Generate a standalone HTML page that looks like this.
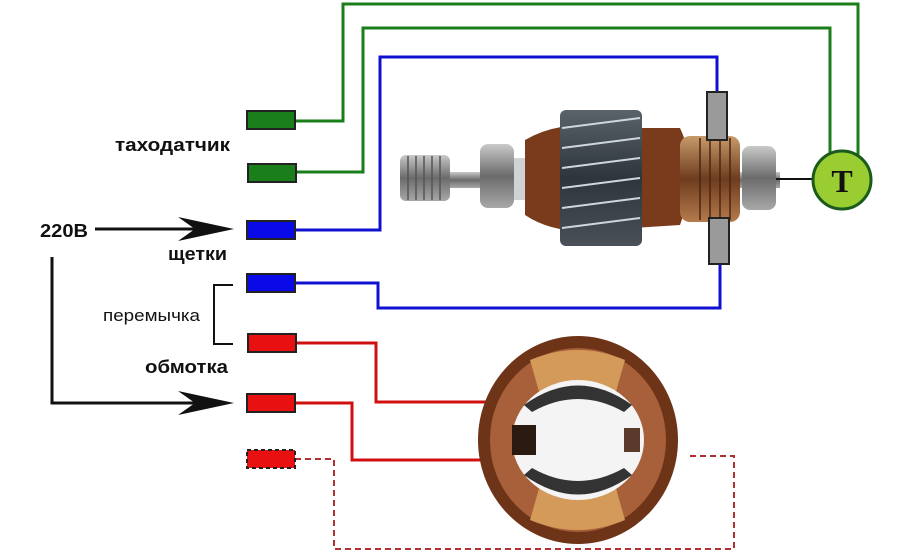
<!DOCTYPE html>
<html><head><meta charset="utf-8"><style>
html,body{margin:0;padding:0;background:#fff;}
svg{display:block;}
text{font-family:"Liberation Sans",sans-serif;fill:#111;}
</style></head><body>
<svg width="900" height="553" viewBox="0 0 900 553" xmlns="http://www.w3.org/2000/svg">
<defs>
<linearGradient id="core" x1="0" y1="0" x2="0" y2="1">
<stop offset="0" stop-color="#5a626a"/><stop offset="0.5" stop-color="#2e353c"/><stop offset="1" stop-color="#4a5058"/></linearGradient>
<linearGradient id="steel" x1="0" y1="0" x2="0" y2="1">
<stop offset="0" stop-color="#c9c9c9"/><stop offset="0.5" stop-color="#6b6b6b"/><stop offset="1" stop-color="#a8a8a8"/></linearGradient>
<linearGradient id="copper" x1="0" y1="0" x2="0" y2="1">
<stop offset="0" stop-color="#c79a6a"/><stop offset="0.5" stop-color="#6e3c1e"/><stop offset="1" stop-color="#b57b4d"/></linearGradient>
</defs>

<!-- wires -->
<g fill="none" stroke-width="3">
<polyline stroke="#1a7f1a" points="295,121 343,121 343,4 858,4 858,155"/>
<polyline stroke="#1a7f1a" points="295,172 363,172 363,28 830,28 830,155"/>
<polyline stroke="#1010d0" points="295,230 380,230 380,57 717,57 717,92"/>
<polyline stroke="#1010d0" points="295,283 378,283 378,308 720,308 720,264"/>
<polyline stroke="#d01010" points="295,343 376,343 376,402 492,402"/>
<polyline stroke="#d01010" points="295,403 352,403 352,460 490,460"/>
<polyline stroke="#b03030" stroke-width="2" stroke-dasharray="6,4" points="295,459 334,459 334,549 734,549 734,456 688,456"/>
</g>

<!-- terminals -->
<g stroke="#222" stroke-width="2">
<rect x="247" y="111" width="48" height="18" fill="#1a7f1a"/>
<rect x="248" y="164" width="48" height="18" fill="#1a7f1a"/>
<rect x="247" y="221" width="48" height="18" fill="#0a0ae8"/>
<rect x="247" y="274" width="48" height="18" fill="#0a0ae8"/>
<rect x="248" y="334" width="48" height="18" fill="#e81010"/>
<rect x="247" y="394" width="48" height="18" fill="#e81010"/>
<rect x="247" y="450" width="48" height="18" fill="#e81010" stroke-dasharray="4,3"/>
</g>

<!-- labels -->
<text x="115" y="151" font-size="18" font-weight="bold" textLength="115" lengthAdjust="spacingAndGlyphs">таходатчик</text>
<text x="40" y="237" font-size="18" font-weight="bold" textLength="48" lengthAdjust="spacingAndGlyphs">220В</text>
<text x="168" y="260" font-size="18" font-weight="bold" textLength="59" lengthAdjust="spacingAndGlyphs">щетки</text>
<text x="103" y="321" font-size="17" textLength="97" lengthAdjust="spacingAndGlyphs">перемычка</text>
<text x="145" y="373" font-size="18" font-weight="bold" textLength="83" lengthAdjust="spacingAndGlyphs">обмотка</text>

<!-- bracket -->
<polyline fill="none" stroke="#111" stroke-width="2" points="233,285 214,285 214,344 233,344"/>

<!-- arrows -->
<g stroke="#111" stroke-width="3" fill="none">
<line x1="95" y1="229" x2="225" y2="229"/>
<polyline points="52,257 52,403 225,403"/>
</g>
<path d="M234,229 L178,217 L195,229 L178,241 Z" fill="#111"/>
<path d="M234,403 L178,391 L195,403 L178,415 Z" fill="#111"/>

<!-- rotor -->
<rect x="400" y="172" width="380" height="16" fill="url(#steel)"/>
<rect x="400" y="155" width="50" height="46" rx="6" fill="url(#steel)"/>
<g stroke="#555" stroke-width="1.5">
<line x1="408" y1="156" x2="408" y2="200"/><line x1="416" y1="156" x2="416" y2="200"/><line x1="424" y1="156" x2="424" y2="200"/><line x1="432" y1="156" x2="432" y2="200"/><line x1="440" y1="156" x2="440" y2="200"/></g>
<rect x="480" y="144" width="34" height="64" rx="8" fill="url(#steel)"/>
<rect x="514" y="158" width="28" height="42" fill="#cfd3d6"/>
<path d="M525,140 Q560,120 600,128 L680,128 Q700,170 680,225 L600,230 Q555,235 525,215 Z" fill="#7a3a1c"/>
<rect x="560" y="110" width="82" height="136" rx="6" fill="url(#core)"/>
<g stroke="#cfd6dc" stroke-width="2">
<line x1="562" y1="128" x2="640" y2="118"/><line x1="562" y1="148" x2="640" y2="138"/><line x1="562" y1="168" x2="640" y2="158"/><line x1="562" y1="188" x2="640" y2="178"/><line x1="562" y1="208" x2="640" y2="198"/><line x1="562" y1="228" x2="640" y2="218"/></g>
<rect x="680" y="136" width="60" height="86" rx="10" fill="url(#copper)"/>
<g stroke="#4a2510" stroke-width="1.5"><line x1="700" y1="138" x2="700" y2="220"/><line x1="710" y1="138" x2="710" y2="220"/><line x1="720" y1="138" x2="720" y2="220"/><line x1="730" y1="138" x2="730" y2="220"/></g>
<rect x="742" y="146" width="34" height="64" rx="8" fill="url(#steel)"/>
<!-- brushes -->
<rect x="707" y="92" width="20" height="48" fill="#9a9a9a" stroke="#222" stroke-width="2"/>
<rect x="709" y="218" width="20" height="46" fill="#9a9a9a" stroke="#222" stroke-width="2"/>
<!-- tacho -->
<line x1="776" y1="179" x2="814" y2="179" stroke="#111" stroke-width="2"/>
<circle cx="842" cy="180" r="29" fill="#9acd32" stroke="#1a5a1a" stroke-width="3"/>
<text x="842" y="192" font-size="32" font-weight="bold" text-anchor="middle" style="font-family:'Liberation Serif',serif">T</text>

<!-- stator -->
<ellipse cx="578" cy="440" rx="100" ry="104" fill="#6e3418"/>
<ellipse cx="578" cy="440" rx="88" ry="92" fill="#a8603a"/>
<path d="M530,360 Q578,340 625,360 L615,395 Q578,380 540,395 Z" fill="#d39a5a"/>
<path d="M530,520 Q578,540 625,520 L615,485 Q578,500 540,485 Z" fill="#d39a5a"/>
<ellipse cx="578" cy="440" rx="66" ry="60" fill="#f4f4f4"/>
<path d="M524,405 Q578,366 632,405 L624,412 Q578,386 532,412 Z" fill="#333"/>
<path d="M524,475 Q578,514 632,475 L624,468 Q578,494 532,468 Z" fill="#333"/>
<rect x="512" y="425" width="24" height="30" fill="#2a1a10"/>
<rect x="624" y="428" width="16" height="24" fill="#5a3a2a"/>
</svg>
</body></html>
